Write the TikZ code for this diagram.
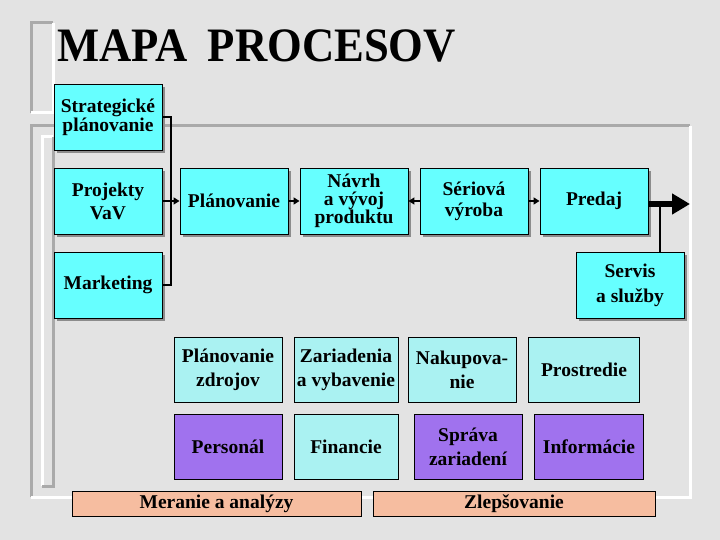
\documentclass[tikz,border=0pt]{standalone}
\usepackage{fontspec}
\usepackage{graphicx}
\setmainfont{Liberation Serif}
\usetikzlibrary{arrows.meta,shadows}
\definecolor{bgc}{HTML}{E3E3E3}
\definecolor{cyanA}{HTML}{66FFFF}
\definecolor{cyanB}{HTML}{AAF2F2}
\definecolor{purp}{HTML}{A072EE}
\definecolor{salm}{HTML}{F6BDA0}
\definecolor{frgray}{HTML}{AAAAAA}
\tikzset{
  topbox/.style={draw=black, line width=0.9pt, fill=cyanA, align=center,
    minimum width=108pt, minimum height=66pt, inner sep=1pt,
    drop shadow={shadow xshift=3pt, shadow yshift=-3pt, fill=black!45, opacity=1}},
  lowbox/.style={draw=black, line width=0.9pt, align=center,
    minimum height=65pt, inner sep=1pt},
  bar/.style={draw=black, line width=0.9pt, fill=salm, minimum height=25pt, inner sep=0pt},
  txt/.style={font=\fontsize{19.5}{#1}\selectfont\bfseries},
  conn/.style={draw=black, line width=2pt},
  arr/.style={draw=black, line width=2pt, -{Triangle[length=6pt,width=7pt]}},
  bigarr/.style={draw=black, line width=6pt, -{Triangle[length=18pt,width=20pt]}},
  grayline/.style={draw=frgray, line width=3pt},
  whiteline/.style={draw=white, line width=3pt},
}
\begin{document}
\begin{tikzpicture}[x=1pt,y=-1pt]
\fill[bgc] (0,0) rectangle (720,540);
\useasboundingbox (0,0) rectangle (720,540);
% frames
\draw[grayline] (31,113) -- (31,23) -- (53,23);
\draw[whiteline] (53,23) -- (53,113) -- (31,113);
\draw[grayline] (31,497) -- (31,126) -- (690,126);
\draw[whiteline] (690,126) -- (690,497) -- (31,497);
\draw[whiteline] (42,486) -- (42,137) -- (53,137);
\draw[grayline] (53,137) -- (53,486) -- (42,486);
% title
\node[anchor=base west, inner sep=0pt] (title) at (57,62) {\scalebox{0.93}[1]{\fontsize{48}{48}\selectfont\bfseries MAPA\hspace{0.45em}PROCESOV}};
% top boxes
\node[topbox, txt=19] (strat) at (108,117) {Strategické\\plánovanie};
\node[topbox, txt=23] (proj) at (108,201) {Projekty\\VaV};
\node[topbox, txt=20] (plan) at (234,201) {Plánovanie};
\node[topbox, txt=18] (navrh) at (354,201) {Návrh\\a vývoj\\produktu};
\node[topbox, txt=21] (seri) at (474,201) {Sériová\\výroba};
\node[topbox, txt=20] (pred) at (594,201) {Predaj};
\node[topbox, txt=20] (mark) at (108,285) {Marketing};
\node[topbox, txt=25] (serv) at (630,285) {Servis\\a služby};
% lower boxes
\node[lowbox, txt=24, fill=cyanB, minimum width=108pt] (pz) at (228,370) {Plánovanie\\zdrojov};
\node[lowbox, txt=24, fill=cyanB, minimum width=104pt] (zar) at (346,370) {Zariadenia\\a vybavenie};
\node[lowbox, txt=24, fill=cyanB, minimum width=108pt] (nak) at (462,370) {Nakupova-\\nie};
\node[lowbox, txt=24, fill=cyanB, minimum width=111pt] (pros) at (584,370) {Prostredie};
\node[lowbox, txt=24, fill=purp, minimum width=108pt] (pers) at (228,447) {Personál};
\node[lowbox, txt=24, fill=cyanB, minimum width=104pt] (fin) at (346,447) {Financie};
\node[lowbox, txt=24, fill=purp, minimum width=108pt] (sprav) at (468,447) {Správa\\zariadení};
\node[lowbox, txt=24, fill=purp, minimum width=109pt] (info) at (589,447) {Informácie};
% bars
\node[bar, txt=20, minimum width=289pt] (mer) at (216.5,503.5) {Meranie a analýzy};
\node[bar, txt=20, minimum width=282pt] (zlep) at (514,503.5) {Zlepšovanie};
% connectors
\draw[conn] (strat.east) -- ++(9,0) |- (mark.east);
\draw[arr] (proj) -- (plan);
\draw[arr] (plan) -- (navrh);
\draw[arr] (seri) -- (navrh);
\draw[arr] (seri) -- (pred);
\coordinate (tipend) at (690,204);
\coordinate (sv) at (660,204);
\draw[conn] (sv) -- (sv |- serv.north);
\draw[bigarr] (pred.east |- tipend) -- (tipend);
\end{tikzpicture}
\end{document}
